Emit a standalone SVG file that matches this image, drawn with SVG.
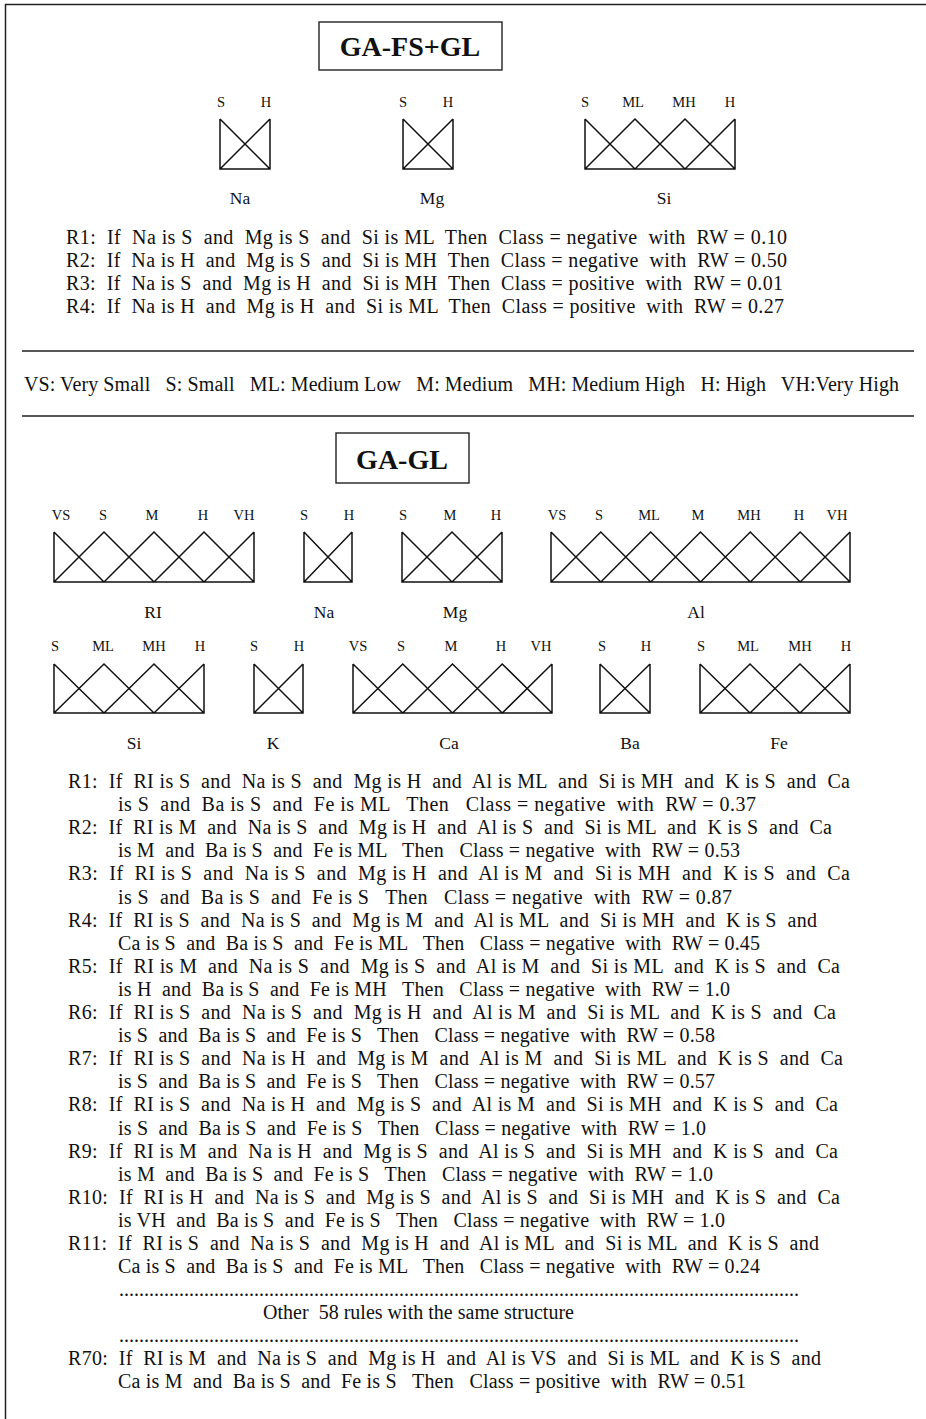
<svg xmlns="http://www.w3.org/2000/svg" width="926" height="1419" viewBox="0 0 926 1419" xml:space="preserve" font-family="'Liberation Serif', 'Times New Roman', serif">
<style>
text{font-family:'Liberation Serif','Times New Roman',serif}
.mf{fill:none;stroke:#111;stroke-width:1.5}
.ln{fill:none;stroke:#222;stroke-width:1.5}
.box{fill:#fff;stroke:#222;stroke-width:1.4}
.title{font-weight:bold;font-size:28px;fill:#111;text-anchor:middle}
.lbl{font-size:14.5px;fill:#111;text-anchor:middle}
.var{font-size:17.5px;fill:#111;text-anchor:middle}
.rule{font-size:20px;fill:#111;white-space:pre}
</style>
<rect width="926" height="1419" fill="#fff"/>
<g id="frame"><path class="ln" d="M5.5,1419 V4.5 H926"/></g>

<g id="title-gafsgl"><rect class="box" x="319" y="22" width="183" height="48"/><text class="title" x="410" y="56">GA-FS+GL</text></g>

<g id="mf-top-na">
<path class="mf" d="M220,119 V169 H270 V119 M220,119 L270,169 M220,169 L270,119"/>
<text class="lbl" x="221" y="107">S</text><text class="lbl" x="266" y="107">H</text>
<text class="var" x="240" y="204">Na</text></g>
<g id="mf-top-mg">
<path class="mf" d="M403,119 V169 H453 V119 M403,119 L453,169 M403,169 L453,119"/>
<text class="lbl" x="403" y="107">S</text><text class="lbl" x="448" y="107">H</text>
<text class="var" x="432" y="204">Mg</text></g>
<g id="mf-top-si">
<path class="mf" d="M585,119 V169 H735 V119 M585,119 L635,169 L685,119 L735,169 M585,169 L635,119 L685,169 L735,119"/>
<text class="lbl" x="585" y="107">S</text><text class="lbl" x="633" y="107">ML</text><text class="lbl" x="684" y="107">MH</text><text class="lbl" x="730" y="107">H</text>
<text class="var" x="664" y="204">Si</text></g>

<g id="rules-top">
<text class="rule" x="66" y="243.5" textLength="721" lengthAdjust="spacing">R1:  If  Na is S  and  Mg is S  and  Si is ML  Then  Class = negative  with  RW = 0.10</text>
<text class="rule" x="66" y="266.5" textLength="721" lengthAdjust="spacing">R2:  If  Na is H  and  Mg is S  and  Si is MH  Then  Class = negative  with  RW = 0.50</text>
<text class="rule" x="66" y="289.5" textLength="717" lengthAdjust="spacing">R3:  If  Na is S  and  Mg is H  and  Si is MH  Then  Class = positive  with  RW = 0.01</text>
<text class="rule" x="66" y="312.5" textLength="718" lengthAdjust="spacing">R4:  If  Na is H  and  Mg is H  and  Si is ML  Then  Class = positive  with  RW = 0.27</text>
</g>

<g id="legend">
<path class="ln" d="M22,351 H914 M22,416 H914"/>
<text class="rule" x="24" y="391" textLength="875" lengthAdjust="spacing">VS: Very Small   S: Small   ML: Medium Low   M: Medium   MH: Medium High   H: High   VH:Very High</text>
</g>

<g id="title-gagl"><rect class="box" x="336" y="433" width="133" height="50"/><text class="title" x="402" y="469">GA-GL</text></g>

<g id="mf-ri">
<path class="mf" d="M54,532 V582 H254 V532 M54,532 L104,582 L154,532 L204,582 L254,532 M54,582 L104,532 L154,582 L204,532 L254,582"/>
<text class="lbl" x="61" y="520">VS</text><text class="lbl" x="103" y="520">S</text><text class="lbl" x="152" y="520">M</text><text class="lbl" x="203" y="520">H</text><text class="lbl" x="244" y="520">VH</text>
<text class="var" x="153" y="618">RI</text></g>
<g id="mf-na">
<path class="mf" d="M304,532 V582 H352 V532 M304,532 L352,582 M304,582 L352,532"/>
<text class="lbl" x="304" y="520">S</text><text class="lbl" x="349" y="520">H</text>
<text class="var" x="324" y="618">Na</text></g>
<g id="mf-mg">
<path class="mf" d="M402,532 V582 H502 V532 M402,532 L452,582 L502,532 M402,582 L452,532 L502,582"/>
<text class="lbl" x="403" y="520">S</text><text class="lbl" x="450" y="520">M</text><text class="lbl" x="496" y="520">H</text>
<text class="var" x="455" y="618">Mg</text></g>
<g id="mf-al">
<path class="mf" d="M551,532 V582 H850 V532 M551,532 L600.8,582 L650.7,532 L700.5,582 L750.3,532 L800.2,582 L850,532 M551,582 L600.8,532 L650.7,582 L700.5,532 L750.3,582 L800.2,532 L850,582"/>
<text class="lbl" x="557" y="520">VS</text><text class="lbl" x="599" y="520">S</text><text class="lbl" x="649" y="520">ML</text><text class="lbl" x="698" y="520">M</text><text class="lbl" x="749" y="520">MH</text><text class="lbl" x="799" y="520">H</text><text class="lbl" x="837" y="520">VH</text>
<text class="var" x="696" y="618">Al</text></g>

<g id="mf-si">
<path class="mf" d="M54,664 V713 H204 V664 M54,664 L104,713 L154,664 L204,713 M54,713 L104,664 L154,713 L204,664"/>
<text class="lbl" x="55" y="651">S</text><text class="lbl" x="103" y="651">ML</text><text class="lbl" x="154" y="651">MH</text><text class="lbl" x="200" y="651">H</text>
<text class="var" x="134" y="749">Si</text></g>
<g id="mf-k">
<path class="mf" d="M254,664 V713 H303 V664 M254,664 L303,713 M254,713 L303,664"/>
<text class="lbl" x="254" y="651">S</text><text class="lbl" x="299" y="651">H</text>
<text class="var" x="273" y="749">K</text></g>
<g id="mf-ca">
<path class="mf" d="M353,664 V713 H552 V664 M353,664 L402.75,713 L452.5,664 L502.25,713 L552,664 M353,713 L402.75,664 L452.5,713 L502.25,664 L552,713"/>
<text class="lbl" x="358" y="651">VS</text><text class="lbl" x="401" y="651">S</text><text class="lbl" x="451" y="651">M</text><text class="lbl" x="501" y="651">H</text><text class="lbl" x="541" y="651">VH</text>
<text class="var" x="449" y="749">Ca</text></g>
<g id="mf-ba">
<path class="mf" d="M600,664 V713 H650 V664 M600,664 L650,713 M600,713 L650,664"/>
<text class="lbl" x="602" y="651">S</text><text class="lbl" x="646" y="651">H</text>
<text class="var" x="630" y="749">Ba</text></g>
<g id="mf-fe">
<path class="mf" d="M700,664 V713 H850 V664 M700,664 L750,713 L800,664 L850,713 M700,713 L750,664 L800,713 L850,664"/>
<text class="lbl" x="701" y="651">S</text><text class="lbl" x="748" y="651">ML</text><text class="lbl" x="800" y="651">MH</text><text class="lbl" x="846" y="651">H</text>
<text class="var" x="779" y="749">Fe</text></g>

<g id="rules-gagl">
<text class="rule" x="68" y="788" textLength="782" lengthAdjust="spacing">R1:  If  RI is S  and  Na is S  and  Mg is H  and  Al is ML  and  Si is MH  and  K is S  and  Ca</text>
<text class="rule" x="118" y="811.1" textLength="638" lengthAdjust="spacing">is S  and  Ba is S  and  Fe is ML   Then   Class = negative  with  RW = 0.37</text>
<text class="rule" x="68" y="834.2" textLength="764" lengthAdjust="spacing">R2:  If  RI is M  and  Na is S  and  Mg is H  and  Al is S  and  Si is ML  and  K is S  and  Ca</text>
<text class="rule" x="118" y="857.3" textLength="622" lengthAdjust="spacing">is M  and  Ba is S  and  Fe is ML   Then   Class = negative  with  RW = 0.53</text>
<text class="rule" x="68" y="880.4" textLength="782" lengthAdjust="spacing">R3:  If  RI is S  and  Na is S  and  Mg is H  and  Al is M  and  Si is MH  and  K is S  and  Ca</text>
<text class="rule" x="118" y="903.5" textLength="614" lengthAdjust="spacing">is S  and  Ba is S  and  Fe is S   Then   Class = negative  with  RW = 0.87</text>
<text class="rule" x="68" y="926.6" textLength="749" lengthAdjust="spacing">R4:  If  RI is S  and  Na is S  and  Mg is M  and  Al is ML  and  Si is MH  and  K is S  and</text>
<text class="rule" x="118" y="949.7" textLength="642" lengthAdjust="spacing">Ca is S  and  Ba is S  and  Fe is ML   Then   Class = negative  with  RW = 0.45</text>
<text class="rule" x="68" y="972.8" textLength="772" lengthAdjust="spacing">R5:  If  RI is M  and  Na is S  and  Mg is S  and  Al is M  and  Si is ML  and  K is S  and  Ca</text>
<text class="rule" x="118" y="995.9" textLength="612" lengthAdjust="spacing">is H  and  Ba is S  and  Fe is MH   Then   Class = negative  with  RW = 1.0</text>
<text class="rule" x="68" y="1019" textLength="768" lengthAdjust="spacing">R6:  If  RI is S  and  Na is S  and  Mg is H  and  Al is M  and  Si is ML  and  K is S  and  Ca</text>
<text class="rule" x="118" y="1042.1" textLength="597" lengthAdjust="spacing">is S  and  Ba is S  and  Fe is S   Then   Class = negative  with  RW = 0.58</text>
<text class="rule" x="68" y="1065.2" textLength="775" lengthAdjust="spacing">R7:  If  RI is S  and  Na is H  and  Mg is M  and  Al is M  and  Si is ML  and  K is S  and  Ca</text>
<text class="rule" x="118" y="1088.3" textLength="597" lengthAdjust="spacing">is S  and  Ba is S  and  Fe is S   Then   Class = negative  with  RW = 0.57</text>
<text class="rule" x="68" y="1111.4" textLength="770" lengthAdjust="spacing">R8:  If  RI is S  and  Na is H  and  Mg is S  and  Al is M  and  Si is MH  and  K is S  and  Ca</text>
<text class="rule" x="118" y="1134.5" textLength="588" lengthAdjust="spacing">is S  and  Ba is S  and  Fe is S   Then   Class = negative  with  RW = 1.0</text>
<text class="rule" x="68" y="1157.6" textLength="770" lengthAdjust="spacing">R9:  If  RI is M  and  Na is H  and  Mg is S  and  Al is S  and  Si is MH  and  K is S  and  Ca</text>
<text class="rule" x="118" y="1180.7" textLength="595" lengthAdjust="spacing">is M  and  Ba is S  and  Fe is S   Then   Class = negative  with  RW = 1.0</text>
<text class="rule" x="68" y="1203.8" textLength="772" lengthAdjust="spacing">R10:  If  RI is H  and  Na is S  and  Mg is S  and  Al is S  and  Si is MH  and  K is S  and  Ca</text>
<text class="rule" x="118" y="1226.9" textLength="607" lengthAdjust="spacing">is VH  and  Ba is S  and  Fe is S   Then   Class = negative  with  RW = 1.0</text>
<text class="rule" x="68" y="1250" textLength="751" lengthAdjust="spacing">R11:  If  RI is S  and  Na is S  and  Mg is H  and  Al is ML  and  Si is ML  and  K is S  and</text>
<text class="rule" x="118" y="1273.1" textLength="642" lengthAdjust="spacing">Ca is S  and  Ba is S  and  Fe is ML   Then   Class = negative  with  RW = 0.24</text>
<text class="rule" x="119" y="1296" textLength="680" lengthAdjust="spacing">........................................................................................................................................</text>
<text class="rule" x="263" y="1319" textLength="311" lengthAdjust="spacing">Other  58 rules with the same structure</text>
<text class="rule" x="119" y="1342" textLength="680" lengthAdjust="spacing">........................................................................................................................................</text>
<text class="rule" x="68" y="1365" textLength="753" lengthAdjust="spacing">R70:  If  RI is M  and  Na is S  and  Mg is H  and  Al is VS  and  Si is ML  and  K is S  and</text>
<text class="rule" x="118" y="1388" textLength="628" lengthAdjust="spacing">Ca is M  and  Ba is S  and  Fe is S   Then   Class = positive  with  RW = 0.51</text>
</g>
</svg>
